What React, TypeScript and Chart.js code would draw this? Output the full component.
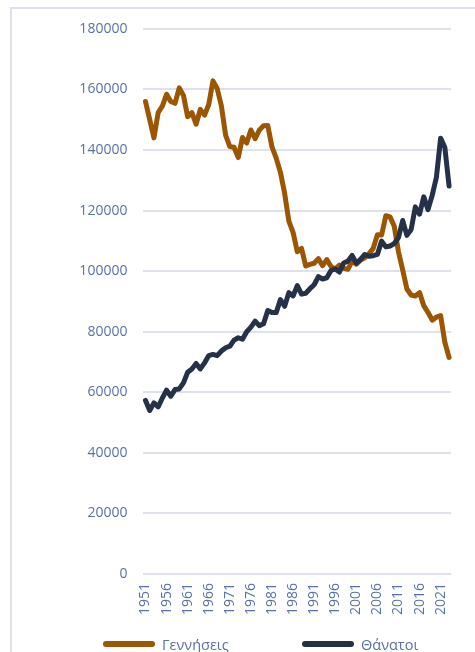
import React, { useEffect, useRef } from "react";
import { Chart, registerables } from "chart.js";

Chart.register(...registerables);

const years: string[] = [];
for (let y = 1951; y <= 2023; y++) years.push(String(y));

const seriesNames = ["Γεννήσεις", "Θάνατοι"];
const seriesColors = ["#9c5500", "#243149"];

const births = [
  156000, 150000, 144000, 152300, 154500, 158400, 156000, 155400, 160500, 158000,
  151000, 152300, 148500, 153400, 151500, 155000, 162800, 160300, 154500, 144900,
  141100, 140900, 137500, 144100, 142300, 146600, 143700, 146600, 148000, 148100,
  141000, 137300, 132600, 125700, 116500, 112800, 106400, 107500, 101700, 102200,
  102600, 104100, 101800, 103800, 101500, 100700, 102000, 100900, 100600, 103300,
  102300, 103600, 104400, 105700, 107500, 112000, 111900, 118300, 117900, 114800,
  106400, 100400, 94100, 92100, 91800, 92900, 88600, 86400, 83800, 84800,
  85300, 76500, 71500,
];

const deaths = [
  57300, 54000, 56500, 55200, 58100, 60700, 58700, 60900, 61100, 63100,
  66600, 67700, 69500, 67700, 69700, 72100, 72500, 72100, 73600, 74700,
  75200, 77200, 78000, 77500, 80000, 81500, 83500, 82000, 82600, 87000,
  86300, 86300, 90600, 88400, 92900, 91800, 95200, 92400, 92700, 94200,
  95500, 98200, 97400, 97800, 100200, 100700, 99700, 102700, 103300, 105200,
  102600, 103900, 105500, 104900, 105100, 105500, 109900, 108000, 108300, 109100,
  111100, 116700, 111800, 113700, 121200, 118800, 124500, 120300, 125000, 131000,
  143900, 140800, 128100,
];

const yMax = 180000;
const yStep = 20000;

const FONT = "'Open Sans', 'DejaVu Sans', sans-serif";
const TEXT_COLOR = "#5a70a6";
const GRID_COLOR = "#dde2ee";

export default function App() {
  const ref = useRef<HTMLCanvasElement | null>(null);

  useEffect(() => {
    if (!ref.current) return;
    const chart = new Chart(ref.current, {
      type: "line",
      data: {
        labels: years,
        datasets: [
          {
            label: seriesNames[0],
            data: births,
            borderColor: seriesColors[0],
            backgroundColor: seriesColors[0],
            borderWidth: 5,
            pointRadius: 0,
            borderJoinStyle: "round",
            borderCapStyle: "round",
            tension: 0,
            order: 1,
          },
          {
            label: seriesNames[1],
            data: deaths,
            borderColor: seriesColors[1],
            backgroundColor: seriesColors[1],
            borderWidth: 5,
            pointRadius: 0,
            borderJoinStyle: "round",
            borderCapStyle: "round",
            tension: 0,
            order: 0,
          },
        ],
      },
      options: {
        animation: false,
        responsive: false,
        devicePixelRatio: 1,
        layout: { padding: { left: 0, right: 20.4, top: 28.8, bottom: 16 } },
        plugins: {
          legend: { display: false },
          tooltip: { enabled: false },
        },
        scales: {
          x: {
            type: "category",
            offset: true,
            grid: { display: false, drawTicks: false },
            border: { display: false },
            ticks: {
              autoSkip: false,
              maxRotation: 90,
              minRotation: 90,
              padding: 9,
              color: TEXT_COLOR,
              font: { family: FONT, size: 14 },
              callback: (_v: any, i: number) => (i % 5 === 0 ? years[i] : ""),
            },
            afterFit: (s: any) => {
              s.height = 50;
            },
          },
          y: {
            min: 0,
            max: yMax,
            grid: { color: GRID_COLOR, lineWidth: 2, drawTicks: false },
            border: { display: false },
            ticks: {
              stepSize: yStep,
              padding: 16,
              color: TEXT_COLOR,
              font: { family: FONT, size: 14 },
              callback: (v: any) => String(v),
            },
            afterFit: (s: any) => {
              s.width = 143.4;
            },
          },
        },
      },
    });
    return () => chart.destroy();
  }, []);

  const legendItems = [
    { barLeft: 103, textLeft: 162 },
    { barLeft: 302, textLeft: 361 },
  ];

  return (
    <div style={{ position: "fixed", left: 0, top: 0, width: 475, height: 652, overflow: "hidden", background: "#fff" }}>
      <div
        style={{
          position: "absolute",
          left: 10,
          top: 7,
          width: 465,
          height: 645,
          borderTop: "2px solid #dbe0ec",
          borderLeft: "2px solid #dbe0ec",
          boxSizing: "border-box",
        }}
      />
      <canvas ref={ref} width={475} height={640} style={{ position: "absolute", left: 0, top: 0 }} />
      {seriesNames.map((name, i) => (
        <React.Fragment key={name}>
          <div
            style={{
              position: "absolute",
              left: legendItems[i].barLeft,
              top: 641,
              width: 52,
              height: 6,
              borderRadius: 3,
              background: seriesColors[i],
            }}
          />
          <div
            style={{
              position: "absolute",
              left: legendItems[i].textLeft,
              top: 635,
              height: 20,
              lineHeight: "20px",
              fontFamily: FONT,
              fontSize: 14.5,
              color: TEXT_COLOR,
              whiteSpace: "nowrap",
            }}
          >
            {name}
          </div>
        </React.Fragment>
      ))}
    </div>
  );
}
